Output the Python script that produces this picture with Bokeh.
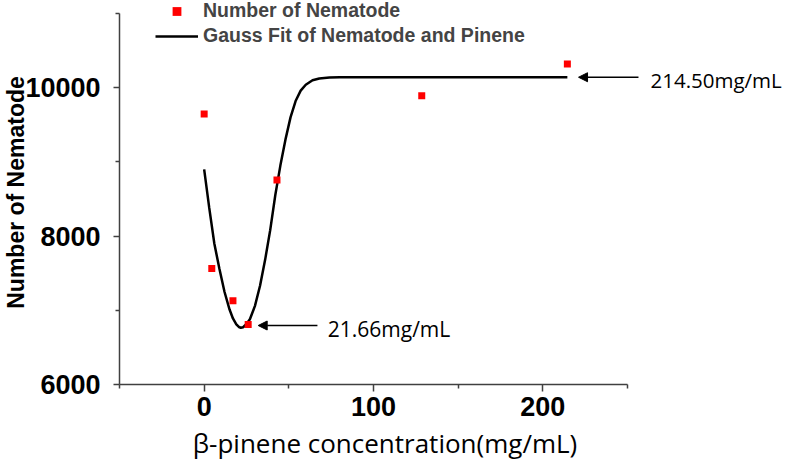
from bokeh.plotting import figure
from bokeh.models import (FixedTicker, Range1d, Legend, LegendItem, Label,
                          Arrow, NormalHead, LinearAxis)
from bokeh.embed import file_html
from bokeh.resources import INLINE

# ---- data ----
conc = [0, 4.5, 17, 26, 43, 128.5, 214.5]
nematodes = [9645, 7565, 7130, 6810, 8755, 9890, 10318]

fit_x = [0, 3, 6, 9, 12, 15, 17, 19, 20.5, 21.66, 23, 25, 27, 30, 33, 36,
         39, 42, 45, 48, 51, 54, 57, 60, 64, 68, 74, 80, 90, 120, 160, 214.5]
fit_y = [8900, 8380, 7900, 7560, 7250, 7010, 6890, 6810, 6775, 6765, 6772,
         6815, 6880, 7060, 7330, 7680, 8080, 8550, 8950, 9300, 9600, 9820,
         9960, 10040, 10100, 10125, 10138, 10140, 10140, 10140, 10140, 10140]

x_ticks = [0, 100, 200]
x_minor = [-50, 50, 150, 250]
y_ticks = [6000, 8000, 10000]
y_minor = [7000, 9000, 11000]

series_names = ["Number of Nematode", "Gauss Fit of Nematode and Pinene"]
min_text = "21.66mg/mL"
max_text = "214.50mg/mL"
y_title = "Number of Nematode"
x_title = "β-pinene concentration(mg/mL)"

# ---- figure ----
p = figure(width=787, height=468,
           x_range=Range1d(-50, 263.6), y_range=Range1d(6000, 11175.2),
           output_backend="svg", toolbar_location=None,
           min_border_left=119, min_border_right=137,
           min_border_top=0, min_border_bottom=84)
p.xgrid.visible = False
p.ygrid.visible = False
p.outline_line_color = None
p.background_fill_color = "white"
p.border_fill_color = "white"

axis_col = "#404040"
for ax in (p.xaxis[0], p.yaxis[0]):
    ax.axis_line_color = axis_col
    ax.axis_line_width = 1.5
    ax.major_tick_line_color = axis_col
    ax.minor_tick_line_color = axis_col
    ax.major_tick_line_width = 1.5
    ax.minor_tick_line_width = 1.5
    ax.major_tick_in = 0
    ax.minor_tick_in = 0
    ax.major_label_text_font = "Liberation Sans"
    ax.major_label_text_font_style = "bold"
    ax.major_label_text_font_size = "27px"
    ax.major_label_text_color = "black"
    ax.axis_label_text_color = "black"

p.xaxis.bounds = (-50, 250)
p.yaxis.bounds = (6000, 11000)
p.xaxis.ticker = FixedTicker(ticks=x_ticks, minor_ticks=x_minor)
p.yaxis.ticker = FixedTicker(ticks=y_ticks, minor_ticks=y_minor)
p.xaxis.major_tick_out = 7
p.xaxis.minor_tick_out = 4
p.xaxis.major_label_standoff = 5
p.yaxis.major_tick_out = 6
p.yaxis.minor_tick_out = 4
p.yaxis.major_label_standoff = 13

p.yaxis.axis_label = y_title
p.yaxis.axis_label_text_font = "Liberation Sans"
p.yaxis.axis_label_text_font_style = "bold"
p.yaxis.axis_label_text_font_size = "23px"
p.yaxis.axis_label_standoff = -7

p.xaxis.axis_label = x_title
p.xaxis.axis_label_text_font = "Open Sans"
p.xaxis.axis_label_text_font_style = "normal"
p.xaxis.axis_label_text_font_size = "26px"
p.xaxis.axis_label_standoff = 6

ln = p.line(fit_x, fit_y, line_width=2.5, color="black")
sc = p.scatter(conc, nematodes, marker="square", size=7,
               fill_color="#ff0000", line_color=None)

legend = Legend(items=[LegendItem(label=series_names[0], renderers=[sc]),
                       LegendItem(label=series_names[1], renderers=[ln])],
                location=(36, 337))
legend.label_text_font = "Liberation Sans"
legend.label_text_font_style = "bold"
legend.label_text_font_size = "19.5px"
legend.label_height = 22
legend.glyph_height = 22
legend.glyph_width = 43
legend.label_standoff = 5
legend.spacing = 2
legend.padding = 0
legend.margin = 0
legend.border_line_color = None
legend.background_fill_alpha = 0
p.add_layout(legend)

# annotations
p.add_layout(Arrow(end=NormalHead(size=9, fill_color="black", line_color="black", line_width=1),
                   x_start=66.9, y_start=6795, x_end=31.9, y_end=6795,
                   line_width=1.6, line_color="black"))
p.add_layout(Arrow(end=NormalHead(size=9, fill_color="black", line_color="black", line_width=1),
                   x_start=256.5, y_start=10141, x_end=221.1, y_end=10141,
                   line_width=1.6, line_color="black"))
p.add_layout(Label(x=73, y=6752, text=min_text, text_font="Open Sans",
                   text_font_size="21px", text_baseline="middle", text_align="left",
                   text_color="black"))

# the end-point note sits right of the plot area, carried by a bare right axis
rax = LinearAxis(ticker=FixedTicker(ticks=[10101]),
                 major_label_overrides={10101: max_text})
rax.axis_line_color = None
rax.major_tick_line_color = None
rax.minor_tick_line_color = None
rax.major_tick_out = 0
rax.major_tick_in = 0
rax.minor_tick_out = 0
rax.major_label_standoff = 0
rax.major_label_text_font = "Open Sans"
rax.major_label_text_font_size = "20.5px"
rax.major_label_text_color = "black"
p.add_layout(rax, "right")

open("out.html", "w").write(file_html(p, INLINE))
